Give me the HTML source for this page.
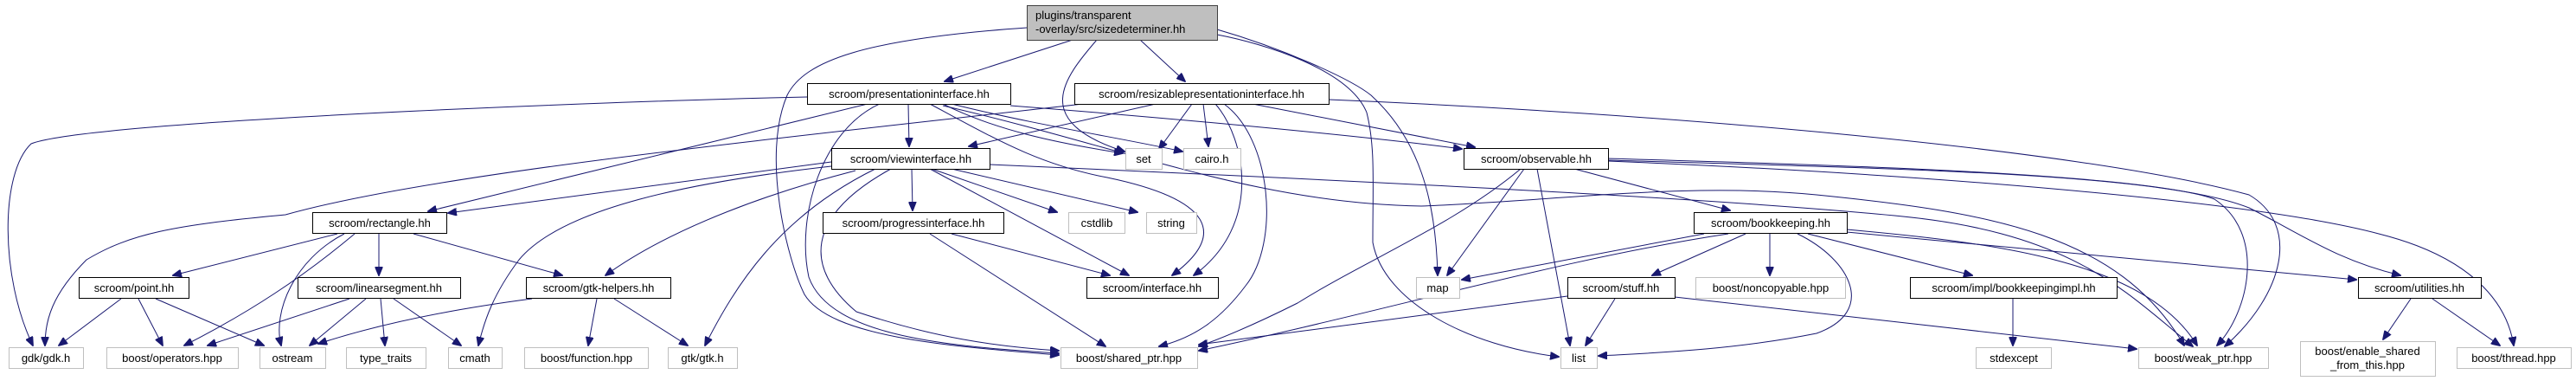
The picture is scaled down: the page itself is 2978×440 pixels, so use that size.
<!DOCTYPE html>
<html><head><meta charset="utf-8"><style>
html,body{margin:0;padding:0;background:#fff;}
svg{display:block;}
text{font-family:"Liberation Sans",sans-serif;font-size:13px;fill:#000;}
.n{fill:#fff;stroke:#000;stroke-width:1;}
.g{fill:#fff;stroke:#bfbfbf;stroke-width:1;}
.e{fill:none;stroke:#191970;stroke-width:1;marker-end:url(#a);}
</style></head><body>
<svg width="2978" height="440" viewBox="0 0 2978 440" xmlns="http://www.w3.org/2000/svg">
<defs><marker id="a" markerWidth="11" markerHeight="9" refX="10" refY="4.5" orient="auto" markerUnits="userSpaceOnUse"><path d="M0,0 L11,4.5 L0,9z" fill="#191970" stroke="#191970"/></marker></defs>
<g>
<path class="e" d="M1240,46 L1092,94"/>
<path class="e" d="M1318,46 L1370,94"/>
<path class="e" d="M1268,46 C1230,90 1190,140 1300,175"/>
<path class="e" d="M1187,32 C1000,45 930,70 910,110 C880,180 910,300 930,340 C960,390 1100,400 1224,410"/>
<path class="e" d="M1407,34 C1480,55 1560,90 1585,110 C1640,160 1660,230 1662,318"/>
<path class="e" d="M1407,40 C1460,50 1560,80 1580,130 C1590,170 1587,210 1587,280 C1600,350 1700,400 1802,412"/>
<path class="e" d="M933,112 C700,117 100,140 36,166 C0,200 0,320 38,399"/>
<path class="e" d="M1003,120 L495,244"/>
<path class="e" d="M1252,120 C900,160 500,200 330,248 C200,260 150,270 100,300 C60,340 52,370 52,399"/>
<path class="e" d="M1050,120 L1051,169"/>
<path class="e" d="M1090,120 C1150,150 1220,165 1298,177"/>
<path class="e" d="M1100,120 C1200,145 1300,160 1367,175"/>
<path class="e" d="M1168,122 C1400,140 1600,160 1690,172"/>
<path class="e" d="M1075,120 C1150,160 1200,190 1280,205 C1400,230 1420,270 1355,318"/>
<path class="e" d="M1017,120 C950,150 920,250 935,320 C960,390 1100,400 1224,408"/>
<path class="e" d="M1090,122 C1300,170 1450,235 1643,238 C1800,232 1950,210 2100,225 C2300,245 2450,270 2525,399"/>
<path class="e" d="M1336,120 L1120,169"/>
<path class="e" d="M1378,120 L1340,172"/>
<path class="e" d="M1391,120 L1397,169"/>
<path class="e" d="M1405,120 C1440,160 1460,260 1380,318"/>
<path class="e" d="M1415,120 C1470,160 1480,280 1440,330 C1410,370 1380,390 1340,400"/>
<path class="e" d="M1448,120 L1705,170"/>
<path class="e" d="M1536,115 C1900,130 2400,170 2600,225 C2660,260 2640,340 2572,400"/>
<path class="e" d="M961,187 L518,246"/>
<path class="e" d="M961,192 C800,210 650,240 600,300 C570,340 560,370 553,399"/>
<path class="e" d="M989,197 C900,220 780,260 700,318"/>
<path class="e" d="M1012,195 C900,250 850,330 815,399"/>
<path class="e" d="M1030,195 C930,250 930,310 990,360 C1080,390 1150,400 1224,405"/>
<path class="e" d="M1054,195 L1055,243"/>
<path class="e" d="M1077,195 L1222,245"/>
<path class="e" d="M1100,195 L1315,245"/>
<path class="e" d="M1075,195 L1305,318"/>
<path class="e" d="M1144,190 C1600,210 2000,230 2200,250 C2400,270 2460,340 2535,400"/>
<path class="e" d="M1100,270 L1283,318"/>
<path class="e" d="M1075,270 L1278,400"/>
<path class="e" d="M390,270 L200,318"/>
<path class="e" d="M410,270 C350,320 290,360 213,399"/>
<path class="e" d="M398,270 C340,300 315,360 325,399"/>
<path class="e" d="M438,270 L438,318"/>
<path class="e" d="M478,270 L650,318"/>
<path class="e" d="M140,345 L68,399"/>
<path class="e" d="M160,345 L188,399"/>
<path class="e" d="M180,345 L305,399"/>
<path class="e" d="M404,345 L240,399"/>
<path class="e" d="M423,345 L358,399"/>
<path class="e" d="M440,345 L445,399"/>
<path class="e" d="M455,345 L533,399"/>
<path class="e" d="M615,345 C500,360 420,380 368,397"/>
<path class="e" d="M690,345 L680,399"/>
<path class="e" d="M710,345 L795,399"/>
<path class="e" d="M1762,195 L1673,318"/>
<path class="e" d="M1758,195 C1680,260 1580,300 1500,350 C1440,380 1400,395 1386,400"/>
<path class="e" d="M1777,195 L1815,399"/>
<path class="e" d="M1820,195 L2000,243"/>
<path class="e" d="M1859,183 C2100,190 2480,200 2560,230 C2620,270 2600,360 2563,399"/>
<path class="e" d="M1859,185 C2200,195 2500,200 2600,240 C2660,270 2700,300 2775,318"/>
<path class="e" d="M1859,186 C2200,200 2600,230 2750,270 C2870,300 2900,360 2906,399"/>
<path class="e" d="M1970,270 L1690,323"/>
<path class="e" d="M1998,270 C1800,300 1600,360 1386,405"/>
<path class="e" d="M2018,270 L1910,318"/>
<path class="e" d="M2046,270 L2046,318"/>
<path class="e" d="M2078,270 C2140,300 2170,360 2100,385 C2000,405 1900,408 1848,411"/>
<path class="e" d="M2090,270 L2280,318"/>
<path class="e" d="M2135,265 C2300,280 2480,300 2540,399"/>
<path class="e" d="M2135,268 L2724,323"/>
<path class="e" d="M1867,345 L1833,399"/>
<path class="e" d="M1812,342 L1386,398"/>
<path class="e" d="M1936,343 L2470,403"/>
<path class="e" d="M2327,345 L2327,399"/>
<path class="e" d="M2787,345 L2755,392"/>
<path class="e" d="M2812,345 L2890,399"/>
</g>
<g text-anchor="middle">
<rect x="1187.5" y="6.5" width="220" height="40" fill="#bfbfbf" stroke="#404040"/>
<text x="1197" y="22" text-anchor="start">plugins/transparent</text>
<text x="1197" y="38" text-anchor="start">-overlay/src/sizedeterminer.hh</text>

<rect class="n" x="933.5" y="96.5" width="235" height="24"/><text x="1051" y="113">scroom/presentationinterface.hh</text>
<rect class="n" x="1242.5" y="96.5" width="294" height="24"/><text x="1389" y="113">scroom/resizablepresentationinterface.hh</text>
<rect class="n" x="961.5" y="171.5" width="183" height="24"/><text x="1053" y="188">scroom/viewinterface.hh</text>
<rect class="g" x="1301.5" y="171.5" width="42" height="24"/><text x="1322" y="188">set</text>
<rect class="g" x="1368.5" y="171.5" width="66" height="24"/><text x="1401" y="188">cairo.h</text>
<rect class="n" x="1692.5" y="171.5" width="167" height="24"/><text x="1776" y="188">scroom/observable.hh</text>

<rect class="n" x="361.5" y="245.5" width="155" height="24"/><text x="439" y="262">scroom/rectangle.hh</text>
<rect class="n" x="951.5" y="245.5" width="209" height="24"/><text x="1056" y="262">scroom/progressinterface.hh</text>
<rect class="g" x="1235.5" y="245.5" width="65" height="24"/><text x="1268" y="262">cstdlib</text>
<rect class="g" x="1325.5" y="245.5" width="58" height="24"/><text x="1354" y="262">string</text>
<rect class="n" x="1958.5" y="245.5" width="177" height="24"/><text x="2047" y="262">scroom/bookkeeping.hh</text>

<rect class="n" x="91.5" y="320.5" width="127" height="24"/><text x="155" y="337">scroom/point.hh</text>
<rect class="n" x="344.5" y="320.5" width="188" height="24"/><text x="438" y="337">scroom/linearsegment.hh</text>
<rect class="n" x="608.5" y="320.5" width="167" height="24"/><text x="692" y="337">scroom/gtk-helpers.hh</text>
<rect class="n" x="1256.5" y="320.5" width="152" height="24"/><text x="1332" y="337">scroom/interface.hh</text>
<rect class="g" x="1637.5" y="320.5" width="50" height="24"/><text x="1662" y="337">map</text>
<rect class="n" x="1812.5" y="320.5" width="124" height="24"/><text x="1874" y="337">scroom/stuff.hh</text>
<rect class="g" x="1960.5" y="320.5" width="173" height="24"/><text x="2047" y="337">boost/noncopyable.hpp</text>
<rect class="n" x="2208.5" y="320.5" width="239" height="24"/><text x="2328" y="337">scroom/impl/bookkeepingimpl.hh</text>
<rect class="n" x="2726.5" y="320.5" width="142" height="24"/><text x="2797" y="337">scroom/utilities.hh</text>

<rect class="g" x="10.5" y="401.5" width="86" height="24"/><text x="53" y="418">gdk/gdk.h</text>
<rect class="g" x="123.5" y="401.5" width="152" height="24"/><text x="199" y="418">boost/operators.hpp</text>
<rect class="g" x="300.5" y="401.5" width="76" height="24"/><text x="338" y="418">ostream</text>
<rect class="g" x="400.5" y="401.5" width="92" height="24"/><text x="446" y="418">type_traits</text>
<rect class="g" x="518.5" y="401.5" width="62" height="24"/><text x="549" y="418">cmath</text>
<rect class="g" x="606.5" y="401.5" width="143" height="24"/><text x="678" y="418">boost/function.hpp</text>
<rect class="g" x="772.5" y="401.5" width="80" height="24"/><text x="812" y="418">gtk/gtk.h</text>
<rect class="g" x="1226.5" y="401.5" width="158" height="24"/><text x="1305" y="418">boost/shared_ptr.hpp</text>
<rect class="g" x="1804.5" y="401.5" width="42" height="24"/><text x="1825" y="418">list</text>
<rect class="g" x="2284.5" y="401.5" width="87" height="24"/><text x="2328" y="418">stdexcept</text>
<rect class="g" x="2472.5" y="401.5" width="150" height="24"/><text x="2547" y="418">boost/weak_ptr.hpp</text>
<rect class="g" x="2659.5" y="394.5" width="156" height="40"/><text x="2737" y="410">boost/enable_shared</text><text x="2737" y="426">_from_this.hpp</text>
<rect class="g" x="2840.5" y="401.5" width="132" height="24"/><text x="2906" y="418">boost/thread.hpp</text>
</g>
</svg>
</body></html>
